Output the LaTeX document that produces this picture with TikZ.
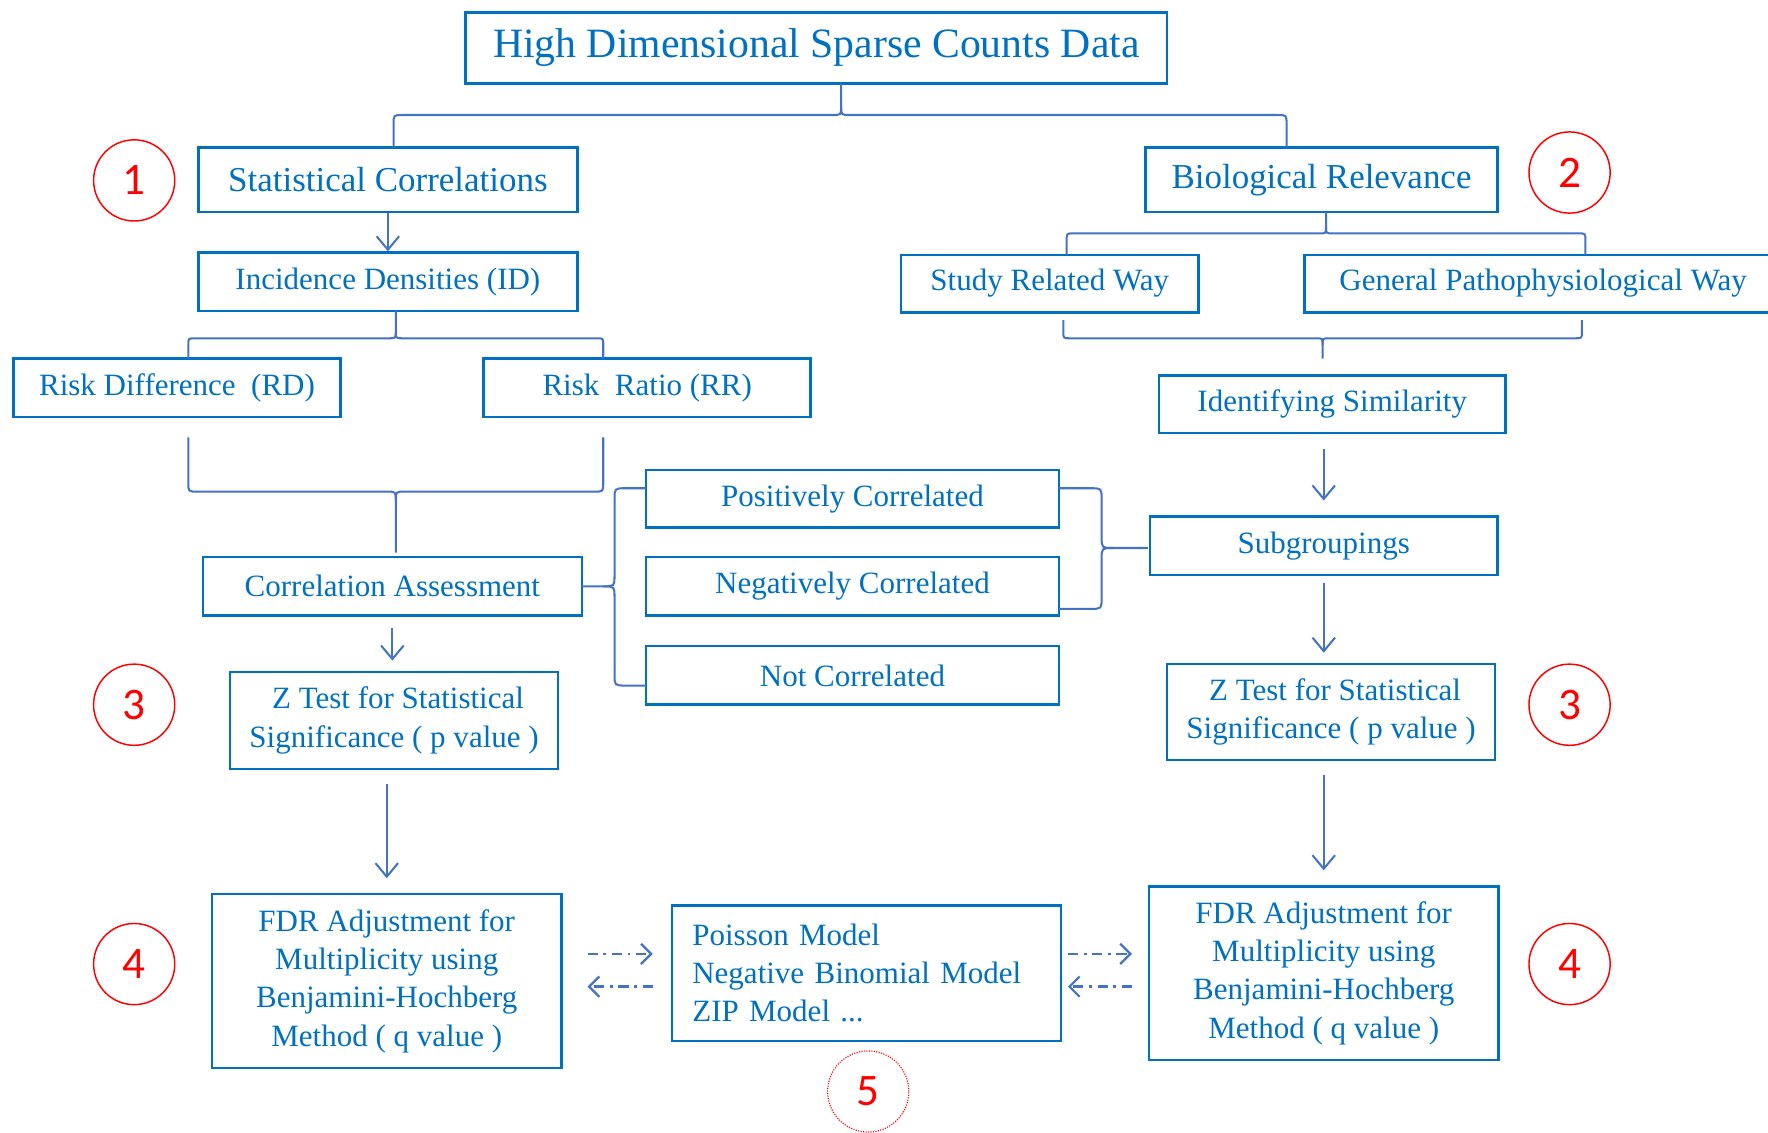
\documentclass[tikz,border=0pt]{standalone}
\usepackage{fontspec}
\setmainfont{Liberation Serif}
\newfontfamily\numfont{Carlito}
\usetikzlibrary{arrows.meta,calc}
\definecolor{txtblue}{HTML}{0070C0}
\definecolor{lnblue}{HTML}{4472C4}
\definecolor{numred}{HTML}{FF0000}
\tikzset{
  box/.style={draw=txtblue, line width=2.2pt, text=txtblue, inner sep=0pt, align=center,
    font=\fontsize{27.5}{34}\selectfont},
  conn/.style={draw=lnblue, line width=1.8pt},
  arr/.style={conn, -{Straight Barb[length=12pt,width=20pt,line width=1.8pt]}},
  dd/.style={draw=lnblue, line width=2pt, dash pattern=on 9pt off 5pt on 2.5pt off 5pt,
    -{Straight Barb[length=9pt,width=18pt,line width=2pt]}},
  num/.style={circle, draw=numred, line width=1.3pt, minimum size=72pt, inner sep=0pt,
    text=numred, font=\numfont\fontsize{40}{40}\selectfont},
}
% horizontal brace: xl xr xc ytip ymid ystem signed-r
\newcommand\myhbrace[7]{%
  \draw[conn] (#1,#4) -- (#1,{#5+(#7)}) .. controls (#1,#5) .. ({#1+abs(#7)},#5)
     -- ({#3-abs(#7)},#5) .. controls (#3,#5) .. (#3,{#5-(#7)}) -- (#3,#6);
  \draw[conn] (#2,#4) -- (#2,{#5+(#7)}) .. controls (#2,#5) .. ({#2-abs(#7)},#5)
     -- ({#3+abs(#7)},#5) .. controls (#3,#5) .. (#3,{#5-(#7)});
}
% vertical brace: ytop ybot yc xtip xmid xstem signed-r
\newcommand\myvbrace[7]{%
  \draw[conn] (#4,#1) -- ({#5+(#7)},#1) .. controls (#5,#1) .. (#5,{#1+abs(#7)})
     -- (#5,{#3-abs(#7)}) .. controls (#5,#3) .. ({#5-(#7)},#3) -- (#6,#3);
  \draw[conn] (#4,#2) -- ({#5+(#7)},#2) .. controls (#5,#2) .. (#5,{#2-abs(#7)})
     -- (#5,{#3+abs(#7)}) .. controls (#5,#3) .. ({#5-(#7)},#3);
}
\begin{document}
\begin{tikzpicture}[x=1pt,y=-1pt]
\useasboundingbox (0,0) rectangle (1568,1004);
\fill[white] (0,0) rectangle (1568,1004);
\clip (0,0) rectangle (1568,1004);

% nodes
\node[box, minimum width=622pt, minimum height=63pt, font=\fontsize{37}{40}\selectfont] (top) at (724,42.5) {High Dimensional Sparse Counts Data};
\node[box, minimum width=336pt, minimum height=57pt, font=\fontsize{31}{34}\selectfont] (stat) at (344,159.5) {Statistical Correlations};
\node[box, minimum width=312pt, minimum height=57pt, font=\fontsize{31}{34}\selectfont] (bio) at (1172,159.5) {Biological Relevance};
\node[box, minimum width=336pt, minimum height=52pt] (id) at (344,250) {Incidence Densities (ID)};
\node[box, minimum width=290pt, minimum height=52pt] (rd) at (157,344) {Risk Difference\ \ (RD)};
\node[box, minimum width=290pt, minimum height=52pt] (rr) at (574,344) {Risk\ \ Ratio (RR)};
\node[box, minimum width=336pt, minimum height=52pt] (ca) at (348,520) {Correlation Assessment};
\node[box, minimum width=366pt, minimum height=51pt] (pos) at (756,442.5) {Positively Correlated};
\node[box, minimum width=366pt, minimum height=52pt] (neg) at (756,520) {Negatively Correlated};
\node[box, minimum width=366pt, minimum height=52pt] (notc) at (756,599) {Not Correlated};
\node[box, minimum width=264pt, minimum height=51pt] (study) at (931,251.5) {Study Related Way};
\node[box, minimum width=423pt, minimum height=51pt] (gen) at (1368.5,251.5) {General Pathophysiological Way};
\node[box, minimum width=307pt, minimum height=51pt] (ident) at (1181.5,358.5) {Identifying Similarity};
\node[box, minimum width=308pt, minimum height=52pt] (sub) at (1174,484) {Subgroupings};
\node[box, minimum width=291pt, minimum height=86pt] (zl) at (349.5,639) {\hspace*{7pt}Z Test for Statistical\\Significance ( p value )};
\node[box, minimum width=291pt, minimum height=85pt] (zr) at (1180.5,631.5) {\hspace*{7pt}Z Test for Statistical\\Significance ( p value )};
\node[box, minimum width=310pt, minimum height=154pt] (fdrl) at (343,870) {FDR Adjustment for\\Multiplicity using\\Benjamini-Hochberg\\Method ( q value )};
\node[box, minimum width=310pt, minimum height=154pt] (fdrr) at (1174,863) {FDR Adjustment for\\Multiplicity using\\Benjamini-Hochberg\\Method ( q value )};
\node[box, align=left, text width=309pt, inner xsep=18pt, minimum height=120pt] (mid) at (768.5,863) {Poisson Model\\Negative Binomial Model\\ZIP Model ...};

% numbered circles
\node[num] (n1) at (119,160) {1};
\node[num] (n2) at (1392,153) {2};
\node[num] (n3l) at (119,625) {3};
\node[num] (n3r) at (1392,625) {3};
\node[num] (n4l) at (119,855) {4};
\node[num] (n4r) at (1392,855) {4};
\node[num, line width=1pt, dash pattern=on 1pt off 1.2pt] (n5) at (770,968) {5};

% braces
\myhbrace{349}{1141}{746}{131}{102}{74}{8}
\myhbrace{167}{535}{351}{318}{300}{276}{6}
\myhbrace{167}{535}{351}{388}{436}{490}{-8}
\myhbrace{946}{1406}{1176}{226}{207}{188}{6}
\myhbrace{943}{1403}{1173}{284}{300}{318}{-6}
\myvbrace{433}{608}{520}{573}{545}{516}{10}
\myvbrace{433}{540}{486}{939}{977}{1018}{-10}

% arrows
\draw[arr] (stat) -- (id);
\draw[arr, shorten <=13pt, shorten >=13pt] (sub.north |- ident.south) -- (sub.north);
\draw[arr, shorten <=10pt, shorten >=9pt] (ca.south) -- (ca.south |- zl.north);
\draw[arr, shorten <=12pt, shorten >=13pt] (fdrl.north |- zl.south) -- (fdrl.north);
\draw[arr, shorten <=6pt, shorten >=9pt] (sub.south) -- (sub.south |- zr.north);
\draw[arr, shorten <=12pt, shorten >=13pt] (fdrr.north |- zr.south) -- (fdrr.north);

% dash-dot arrows
\draw[dd] ([shift={(22,-24)}]fdrl.east) -- ([shift={(-16,-17)}]mid.west);
\draw[dd] ([shift={(-16,12)}]mid.west) -- ([shift={(22,5)}]fdrl.east);
\draw[dd] ([shift={(5,-17)}]mid.east) -- ([shift={(-14,-17)}]fdrr.west);
\draw[dd] ([shift={(-14,12)}]fdrr.west) -- ([shift={(5,12)}]mid.east);
\end{tikzpicture}
\end{document}
